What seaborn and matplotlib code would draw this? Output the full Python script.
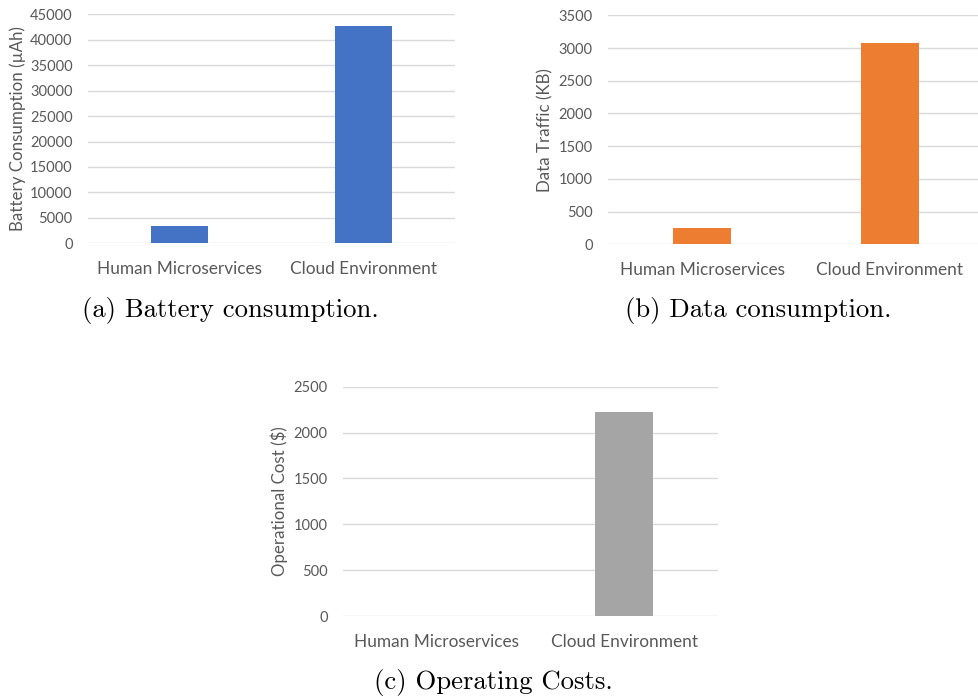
import matplotlib
matplotlib.use("Agg")
import matplotlib.pyplot as plt
import seaborn as sns
import pandas as pd

categories = ["Human Microservices", "Cloud Environment"]
battery_uah = [3400, 42700]
data_kb = [254, 3075]
cost_usd = [0, 2220]

battery_ticks = [0, 5000, 10000, 15000, 20000, 25000, 30000, 35000, 40000, 45000]
data_ticks = [0, 500, 1000, 1500, 2000, 2500, 3000, 3500]
cost_ticks = [0, 500, 1000, 1500, 2000, 2500]

sns.set_theme(style="white")
plt.rcParams["font.family"] = ["Lato", "DejaVu Sans"]

TEXT = "#595959"
GRID = "#d9d9d9"
W, H = 979, 699

fig = plt.figure(figsize=(W / 100, H / 100), dpi=100)


def px_axes(left, top, right, bottom):
    return fig.add_axes([left / W, 1 - bottom / H, (right - left) / W, (bottom - top) / H])


def draw_panel(ax, values, color, ticks, ylabel, label_x):
    df = pd.DataFrame({"cat": categories, "val": values})
    sns.barplot(data=df, x="cat", y="val", color=color, width=0.31,
                saturation=1, ax=ax, edgecolor="none")
    ax.set_xlim(-0.5, 1.5)
    ax.set_ylim(ticks[0], ticks[-1])
    ax.set_yticks(ticks)
    ax.set_yticklabels([str(t) for t in ticks])
    for t in ticks:
        ax.axhline(t, color=GRID, lw=1.0, zorder=0)
    for s in ax.spines.values():
        s.set_visible(False)
    ax.tick_params(axis="y", length=0, pad=11, labelsize=10.5, labelcolor=TEXT)
    ax.tick_params(axis="x", length=0, pad=13, labelsize=12.4, labelcolor=TEXT)
    ax.set_xlabel("")
    ax.set_ylabel(ylabel, color=TEXT, fontsize=12.2)
    ax.yaxis.set_label_coords(label_x, 0.5)
    ax.set_facecolor("white")


ax_a = px_axes(88, 14.3, 455, 243.3)
draw_panel(ax_a, battery_uah, "#4472C4", battery_ticks,
           "Battery Consumption (µAh)", -0.169)

ax_b = px_axes(608, 15.3, 984, 244.3)
draw_panel(ax_b, data_kb, "#ED7D31", data_ticks, "Data Traffic (KB)", -0.146)

ax_c = px_axes(343, 386.7, 718, 616)
draw_panel(ax_c, cost_usd, "#A5A5A5", cost_ticks, "Operational Cost ($)", -0.147)

cap = dict(family=["cmr10", "DejaVu Serif"], fontsize=19.2, color="black",
           ha="center", va="center")
fig.text(230 / W, 1 - 311 / H, "(a) Battery consumption.", **cap)
fig.text(758 / W, 1 - 311 / H, "(b) Data consumption.", **cap)
fig.text(493 / W, 1 - 683 / H, "(c) Operating Costs.", **cap)

fig.savefig("out.png", dpi=100, facecolor="white")
